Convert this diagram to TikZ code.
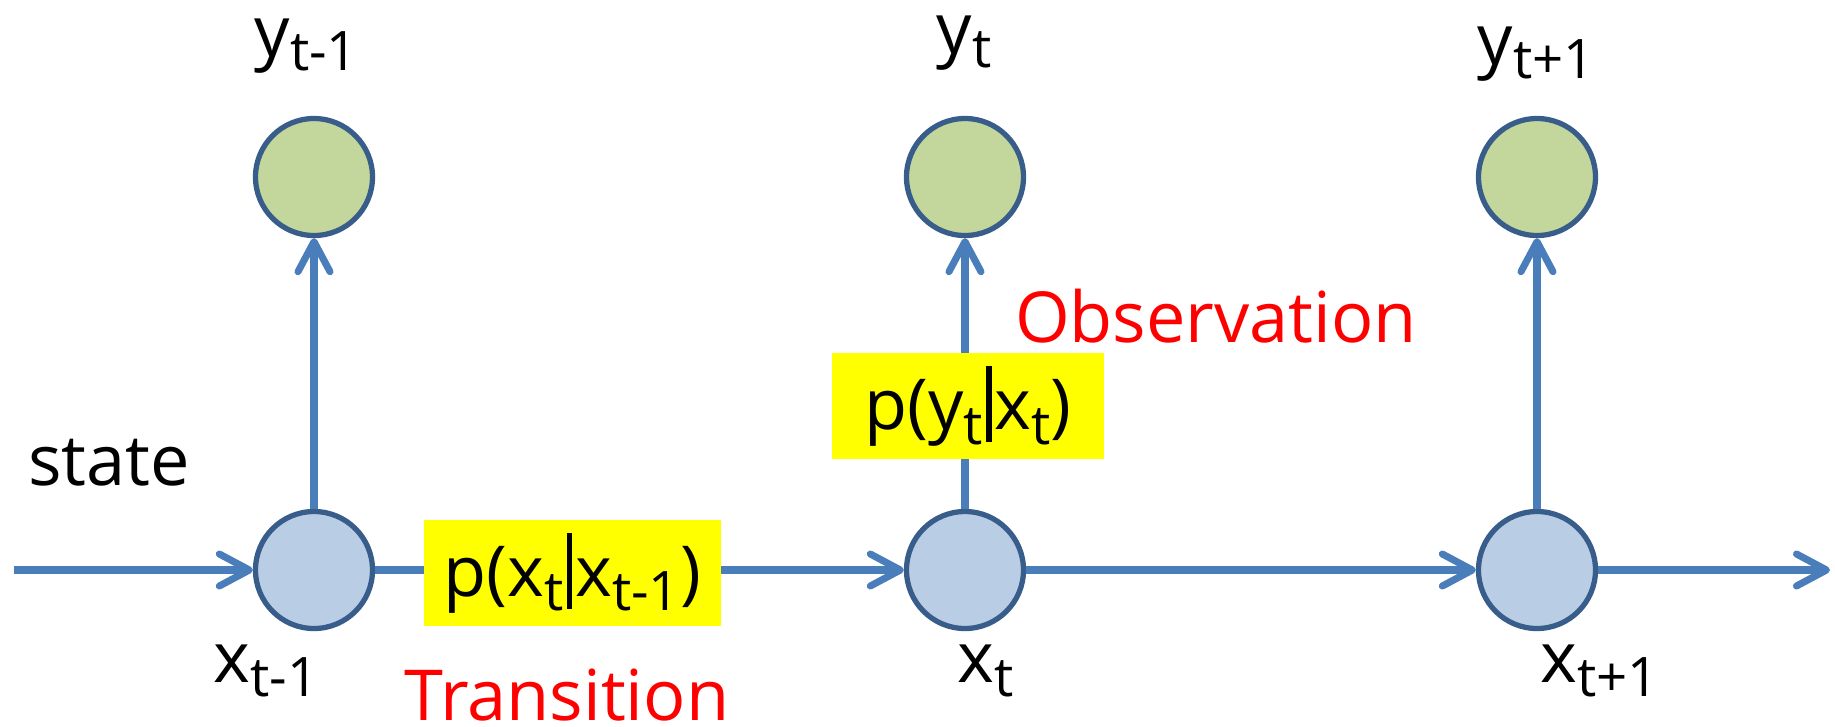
\documentclass[tikz,border=0pt]{standalone}
\usepackage{fontspec}
\setmainfont{Open Sans}
\usetikzlibrary{positioning, arrows.meta}
\definecolor{color_line}{HTML}{4A7EBB}
\definecolor{color_rim}{HTML}{385D8A}
\definecolor{color_state}{HTML}{B9CDE5}
\definecolor{color_obs}{HTML}{C3D69B}
\definecolor{color_mark}{HTML}{FFFF00}
\definecolor{color_note}{HTML}{FF0000}
\newcommand{\sub}[1]{\raisebox{-0.38ex}{\fontsize{15.5}{15.5}\selectfont #1}}
\newcommand{\given}{\kern0.03cm\rule[-0.12cm]{0.055cm}{0.76cm}\kern0.03cm}
\tikzset{
  state_dot/.style={circle, draw=color_rim, line width=1.5pt, fill=color_state, inner sep=0pt, minimum size=1.17cm},
  obs_dot/.style={state_dot, fill=color_obs},
  prob_box/.style={fill=color_mark, inner xsep=0.2cm, inner ysep=0pt, minimum height=1.06cm, font=\fontsize{20}{22}\selectfont},
  plain_label/.style={font=\fontsize{20}{22}\selectfont, inner sep=0pt},
  note_label/.style={plain_label, text=color_note},
  flow_arrow/.style={-{Straight Barb[length=0.3cm, width=0.32cm, round]}, draw=color_line, line width=2pt},
}
\begin{document}
\begin{tikzpicture}
    \useasboundingbox (0,0) rectangle (18.35,7.26);

    \node[state_dot] (xa) at (3.14, 1.56)  {};
    \node[state_dot] (xb) at (9.65, 1.56)  {};
    \node[state_dot] (xc) at (15.37, 1.56) {};
    \node[obs_dot]   (ya) at (3.14, 5.49)  {};
    \node[obs_dot]   (yb) at (9.65, 5.49)  {};
    \node[obs_dot]   (yc) at (15.37, 5.49) {};

    \coordinate (in)  at (0.14, 1.56);
    \coordinate (out) at (18.30, 1.56);

    \node[plain_label, anchor=base west] (ya_text) at (2.54, 6.70) {y\sub{t-1}};
    \node[plain_label, anchor=base west] (yb_text) at (9.36, 6.73) {y\sub{t}};
    \node[plain_label, anchor=base west] (yc_text) at (14.77, 6.62) {y\sub{t+1}};
    \node[plain_label, anchor=base west] (xa_text) at (2.13, 0.44) {x\sub{t-1}};
    \node[plain_label, anchor=base west] (xb_text) at (9.57, 0.44) {x\sub{t}};
    \node[plain_label, anchor=base west] (xc_text) at (15.40, 0.44) {x\sub{t+1}};
    \node[plain_label, anchor=base] (state) at (1.09, 2.41) {state};

    \draw[flow_arrow] (in) -- (xa);
    \draw[flow_arrow] (xa) -- (xb) node[prob_box, pos=0.373, yshift=-0.03cm] (trans) {p(x\sub{t}\given x\sub{t-1})};
    \draw[flow_arrow] (xb) -- (xc);
    \draw[flow_arrow] (xc) -- (out);
    \draw[flow_arrow] (xa) -- (ya);
    \draw[flow_arrow] (xb) -- (yb) node[prob_box, inner xsep=0.33cm, pos=0.379, xshift=0.03cm] (emit) {p(y\sub{t}\given x\sub{t})};
    \draw[flow_arrow] (xc) -- (yc);

    \node[note_label, anchor=base] (obs_note)   at (12.16, 3.84) {Observation};
    \node[note_label, anchor=base] (trans_note) at (5.67, 0.06)  {Transition};
  \end{tikzpicture}
\end{document}
